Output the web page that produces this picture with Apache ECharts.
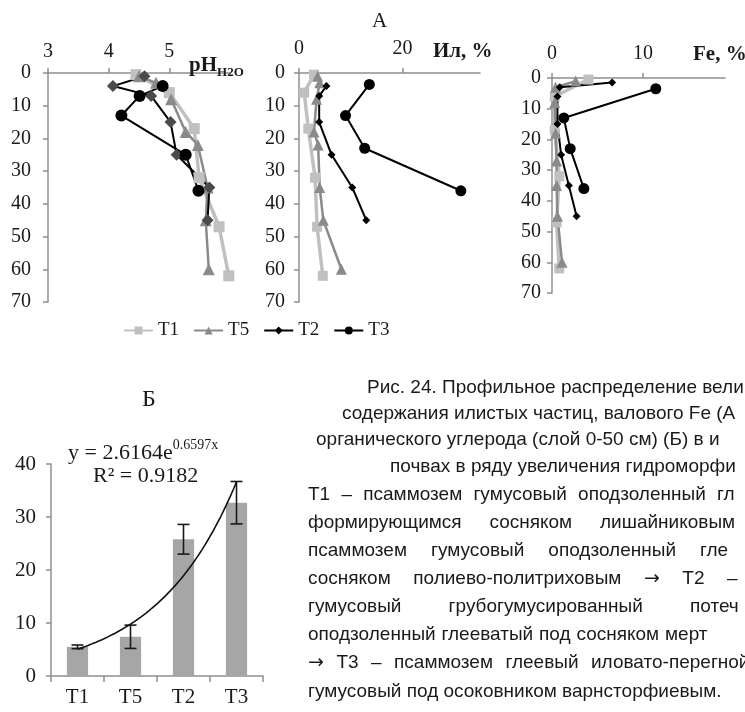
<!DOCTYPE html>
<html><head><meta charset="utf-8">
<script src="https://cdn.jsdelivr.net/npm/echarts@6/dist/echarts.min.js"></script>
<style>html,body{margin:0;padding:0;background:#fff}#c{width:745px;height:712px}</style>
</head><body><div id="c"></div>
<script>
// ---------- DATA ----------
const seriesNames = ['T1', 'T5', 'T2', 'T3'];
// pH (H2O) profile: depth (cm) and value
const phDepthT1 = [0.5, 6, 17, 32, 47, 62];
const phT1 = [4.45, 5.0, 5.41, 5.49, 5.82, 5.98];
const phDepthT5 = [1, 3, 8, 18, 22, 35, 45, 60];
const phT5 = [4.5, 4.78, 5.03, 5.27, 5.47, 5.63, 5.6, 5.65];
const phDepthT2 = [1, 4, 7, 15, 25, 35, 45];
const phT2 = [4.59, 4.07, 4.7, 5.02, 5.12, 5.66, 5.63];
const phDepthT3 = [4, 7, 13, 25, 36];
const phT3 = [4.89, 4.51, 4.21, 5.27, 5.48];
// Clay (Ил, %) profile
const ilDepthT1 = [0.5, 6, 17, 32, 47, 62];
const ilT1 = [2.9, 1.0, 1.8, 3.1, 3.5, 4.6];
const ilDepthT5 = [1, 3, 8, 18, 22, 35, 45, 60];
const ilT5 = [3.6, 4.0, 3.4, 2.9, 3.7, 4.0, 4.7, 8.2];
const ilDepthT2 = [4, 7, 15, 25, 35, 45];
const ilT2 = [5.3, 3.9, 3.9, 6.3, 10.3, 13.0];
const ilDepthT3 = [3.5, 13, 23, 36];
const ilT3 = [13.6, 9.0, 12.7, 31.3];
// Fe, % profile
const feDepthT1 = [0.5, 6, 17, 32, 47, 62];
const feT1 = [4.0, 0.3, 0.3, 0.8, 0.5, 0.8];
const feDepthT5 = [1, 3, 8, 18, 27, 35, 45, 60];
const feT5 = [2.6, 0.4, 0.3, 0.4, 0.5, 0.5, 0.6, 1.1];
const feDepthT2 = [1.5, 3, 6, 15, 25, 35, 45];
const feT2 = [6.6, 0.85, 0.6, 0.6, 1.0, 1.85, 2.7];
const feDepthT3 = [3.5, 13, 23, 36];
const feT3 = [11.4, 1.3, 2.0, 3.5];
// Б: organic carbon stock, bars with error
const barCategories = ['T1', 'T5', 'T2', 'T3'];
const barValues = [5.5, 7.4, 25.8, 32.7];
const barErrors = [0.35, 2.2, 2.8, 4.0];
// exponential trend shown on the chart: y = 2.6164e^(0.6597x), R² = 0.9182
const trendA = 2.6164;
const trendB = 0.6597;
const trendR2 = '0.9182';

// ---------- STYLE ----------
const SERIF = '"Liberation Serif", "Times New Roman", serif';
const SANS = '"Liberation Sans", Arial, sans-serif';
const TXT = '#1a1a1a';
const AX = '#8f8f8f';

const styles = {
  T1: {symbol: 'rect', size: 10, color: '#c0c0c0', line: '#c0c0c0', width: 3.5},
  T5: {symbol: 'triangle', size: 11, color: '#8a8a8a', line: '#8a8a8a', width: 2.5},
  T2: {symbol: 'diamond', size: 8, color: '#000', line: '#000', width: 2},
  T3: {symbol: 'circle', size: 11, color: '#000', line: '#000', width: 2}
};

function prof(name, axis, vals, depths, over) {
  const s = Object.assign({}, styles[name], over || {});
  return {
    type: 'line', name, xAxisIndex: axis, yAxisIndex: axis, clip: false,
    data: vals.map((v, i) => [v, depths[i]]),
    symbol: s.symbol, symbolSize: s.size, showAllSymbol: true,
    itemStyle: {color: s.color, borderWidth: 0},
    lineStyle: {color: s.line, width: s.width},
    emphasis: {disabled: true}
  };
}
function topX(grid, min, max, interval, margin) {
  return {
    type: 'value', gridIndex: grid, position: 'top', min, max, interval,
    axisLine: {show: true, onZero: false, lineStyle: {color: AX, width: 1.5}},
    axisTick: {show: true, length: 5, lineStyle: {color: AX, width: 1.5}},
    splitLine: {show: false},
    axisLabel: {showMaxLabel: false, margin, fontFamily: SERIF, fontSize: 20, color: TXT}
  };
}
function depthY(grid, margin) {
  return {
    type: 'value', gridIndex: grid, inverse: true, min: 0, max: 70, interval: 10,
    axisLine: {show: true, onZero: false, lineStyle: {color: AX, width: 1.5}},
    axisTick: {show: true, length: 5, lineStyle: {color: AX, width: 1.5}},
    splitLine: {show: false},
    axisLabel: {margin, fontFamily: SERIF, fontSize: 20, color: TXT}
  };
}

// trend line points from the equation displayed on the chart
const trendData = [];
for (let k = 0; k <= 60; k++) {
  const x = 1 + k * 0.05;
  trendData.push([x - 0.5, trendA * Math.exp(trendB * x)]);
}

// ---------- CAPTION ----------
const captionLines = [
  {t: 'Рис. 24. Профильное распределение вели', x: 367, y: 388},
  {t: 'содержания илистых частиц, валового Fe (А', x: 342, y: 414},
  {t: 'органического углерода (слой 0-50 см) (Б) в и', x: 316, y: 440},
  {t: 'почвах в ряду увеличения гидроморфи', x: 390, y: 467},
  {t: 'Т1 – псаммозем гумусовый оподзоленный гл', x: 308, y: 495, last: 717},
  {t: 'формирующимся сосняком лишайниковым', x: 308, y: 523, last: 600},
  {t: 'псаммозем гумусовый оподзоленный гле', x: 308, y: 551, last: 700},
  {t: 'сосняком полиево-политриховым → Т2 –', x: 308, y: 579, last: 727},
  {t: 'гумусовый грубогумусированный потеч', x: 308, y: 607, last: 690},
  {t: 'оподзоленный глееватый под сосняком мерт', x: 308, y: 635, last: 665},
  {t: '→ Т3 – псаммозем глеевый иловато-перегной', x: 308, y: 663, last: 591},
  {t: 'гумусовый под осоковником варнсторфиевым.', x: 308, y: 692}
];
const CAP_SIZE = 19;
const ARROW_FONT = '"DejaVu Sans", sans-serif';
const mctx = document.createElement('canvas').getContext('2d');
function measure(w) {
  mctx.font = CAP_SIZE + 'px ' + (w === '→' ? ARROW_FONT : SANS);
  return mctx.measureText(w).width;
}
const graphics = [];
function capText(text, x, y) {
  graphics.push({type: 'text', x, y, silent: true,
    style: {text, fontSize: CAP_SIZE, fontFamily: text === '→' ? ARROW_FONT : SANS, fill: TXT,
      align: 'left', verticalAlign: 'middle', textAlign: 'left', textVerticalAlign: 'middle'}});
}
captionLines.forEach(L => {
  const words = L.t.split(' ');
  if (L.last === undefined) {
    if (L.t.indexOf('→') < 0) { capText(L.t, L.x, L.y); return; }
  }
  let sum = 0;
  for (let i = 0; i < words.length - 1; i++) sum += measure(words[i]);
  const gap = L.last === undefined ? measure(' ') : (L.last - L.x - sum) / (words.length - 1);
  let x = L.x;
  words.forEach((w, i) => {
    capText(w, (i === words.length - 1 && L.last !== undefined) ? L.last : x, L.y);
    x += measure(w) + gap;
  });
});

// ---------- CHART ----------
const chart = echarts.init(document.getElementById('c'), null, {renderer: 'canvas'});
const option = {
  animation: false,
  backgroundColor: '#fff',
  title: [
    {text: 'А', left: 367, top: 6, textStyle: {fontFamily: SERIF, fontSize: 21, fontWeight: 'normal', color: TXT}},
    {text: '{a|pH}{b|H2O}', left: 184, top: 50,
      textStyle: {rich: {
        a: {fontFamily: SERIF, fontSize: 21, fontWeight: 'bold', color: TXT, lineHeight: 24, verticalAlign: 'top'},
        b: {fontFamily: SERIF, fontSize: 13, fontWeight: 'bold', color: TXT, lineHeight: 13, verticalAlign: 'bottom'}}}},
    {text: 'Ил, %', left: 428, top: 36, textStyle: {fontFamily: SERIF, fontSize: 21, fontWeight: 'bold', color: TXT}},
    {text: 'Fe, %', left: 688, top: 39, textStyle: {fontFamily: SERIF, fontSize: 21, fontWeight: 'bold', color: TXT}},
    {text: 'Б', left: 137, top: 383, textStyle: {fontFamily: SERIF, fontSize: 24, fontWeight: 'normal', color: TXT}},
    {text: '{m|y = ' + trendA + 'e}{s|' + trendB + 'x}', left: 63, top: 433,
      textStyle: {fontWeight: 'normal', rich: {
        m: {fontFamily: SERIF, fontSize: 22, fontWeight: 'normal', color: TXT, lineHeight: 26, verticalAlign: 'bottom'},
        s: {fontFamily: SERIF, fontSize: 14, fontWeight: 'normal', color: TXT, lineHeight: 16, verticalAlign: 'top'}}}},
    {text: 'R² = ' + trendR2, left: 88, top: 460, textStyle: {fontFamily: SERIF, fontSize: 22, fontWeight: 'normal', color: TXT}}
  ],
  legend: {
    data: seriesNames, left: 118, top: 316, itemWidth: 29, itemHeight: 10, itemGap: 14,
    selectedMode: false,
    textStyle: {fontFamily: SERIF, fontSize: 19, color: TXT}
  },
  grid: [
    {left: 48, top: 73, width: 182, height: 229},
    {left: 299, top: 73, width: 181, height: 229},
    {left: 552, top: 78, width: 173, height: 215},
    {left: 51, top: 464, width: 212, height: 212}
  ],
  xAxis: [
    topX(0, 3, 6, 1, 11),
    topX(1, 0, 35, 20, 14),
    topX(2, 0, 19, 10, 14),
    {type: 'category', gridIndex: 3, data: barCategories, position: 'bottom',
      axisLine: {lineStyle: {color: AX, width: 1.5}},
      axisTick: {show: true, length: 6, lineStyle: {color: AX, width: 1.5}},
      axisLabel: {margin: 11, fontFamily: SERIF, fontSize: 21, color: TXT}},
    {type: 'value', gridIndex: 3, min: 0, max: 4, show: false}
  ],
  yAxis: [
    depthY(0, 17),
    depthY(1, 14),
    depthY(2, 11),
    {type: 'value', gridIndex: 3, min: 0, max: 40, interval: 10,
      axisLine: {show: true, lineStyle: {color: AX, width: 1.5}},
      axisTick: {show: true, length: 5, lineStyle: {color: AX, width: 1.5}},
      splitLine: {show: false},
      axisLabel: {margin: 15, fontFamily: SERIF, fontSize: 21, color: TXT}}
  ],
  series: [
    prof('T1', 1, ilT1, ilDepthT1),
    prof('T5', 1, ilT5, ilDepthT5),
    prof('T2', 1, ilT2, ilDepthT2),
    prof('T3', 1, ilT3, ilDepthT3),
    prof('T1', 2, feT1, feDepthT1),
    prof('T5', 2, feT5, feDepthT5),
    prof('T2', 2, feT2, feDepthT2),
    prof('T3', 2, feT3, feDepthT3),
    prof('T1', 0, phT1, phDepthT1, {size: 11}),
    prof('T5', 0, phT5, phDepthT5, {size: 12}),
    prof('T2', 0, phT2, phDepthT2, {size: 12, color: '#4a4a4a'}),
    prof('T3', 0, phT3, phDepthT3, {size: 12}),
    {type: 'bar', name: 'C', xAxisIndex: 3, yAxisIndex: 3, data: barValues, barWidth: '40%',
      itemStyle: {color: '#a6a6a6'}, emphasis: {disabled: true}},
    {type: 'custom', name: 'err', xAxisIndex: 3, yAxisIndex: 3, z: 5,
      data: barValues.map((v, i) => [i, v - barErrors[i], v + barErrors[i]]),
      encode: {x: 0, y: [1, 2]},
      renderItem: function (params, api) {
        const i = api.value(0);
        const lo = api.coord([i, api.value(1)]);
        const hi = api.coord([i, api.value(2)]);
        const w = 6;
        const st = {stroke: '#1a1a1a', lineWidth: 1.6};
        return {type: 'group', children: [
          {type: 'line', shape: {x1: lo[0], y1: lo[1], x2: hi[0], y2: hi[1]}, style: st},
          {type: 'line', shape: {x1: lo[0] - w, y1: lo[1], x2: lo[0] + w, y2: lo[1]}, style: st},
          {type: 'line', shape: {x1: hi[0] - w, y1: hi[1], x2: hi[0] + w, y2: hi[1]}, style: st}
        ]};
      }},
    {type: 'line', name: 'trend', xAxisIndex: 4, yAxisIndex: 3, data: trendData, showSymbol: false,
      symbol: 'none', lineStyle: {color: '#111', width: 1.6}, z: 6, emphasis: {disabled: true}}
  ],
  graphic: graphics
};
chart.setOption(option);
</script>
</body></html>
